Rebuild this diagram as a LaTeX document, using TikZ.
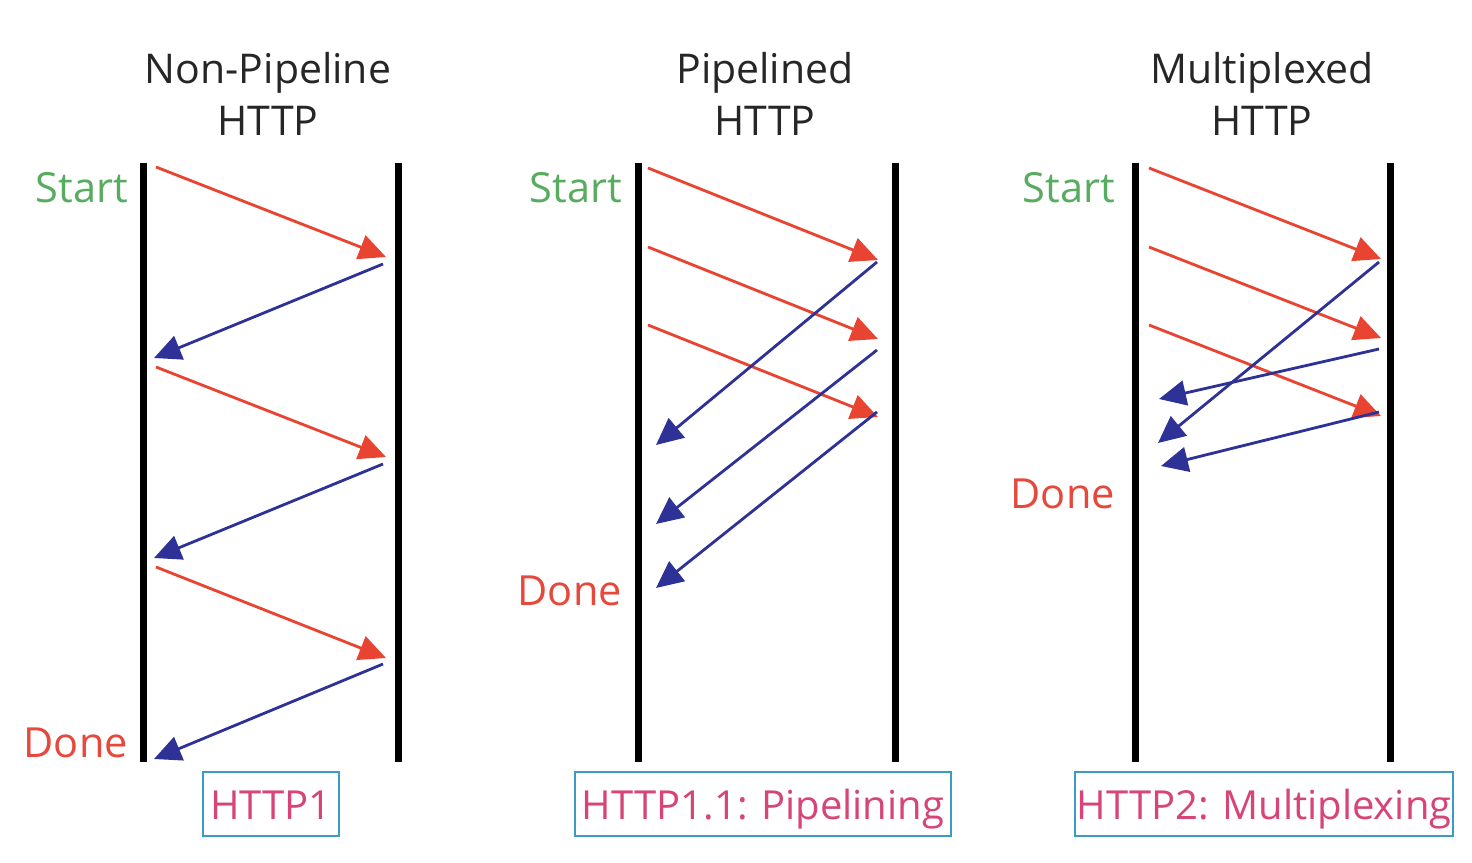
\documentclass[tikz,border=0pt]{standalone}
\usepackage{fontspec}
\setmainfont{Open Sans}
\usetikzlibrary{arrows.meta}

\definecolor{reqred}{RGB}{233,67,50}
\definecolor{respblue}{RGB}{46,50,150}
\definecolor{startgreen}{RGB}{88,172,96}
\definecolor{donered}{RGB}{230,72,60}
\definecolor{tagpink}{RGB}{214,68,120}
\definecolor{tagblue}{RGB}{60,155,196}

\tikzset{
  wire/.style={line width=7pt},
  req/.style={reqred, line width=2.8pt, -{Triangle[length=27pt,width=25pt]}},
  resp/.style={respblue, line width=2.8pt, -{Triangle[length=27pt,width=25pt]}},
  title/.style={align=center, text=black!85, font=\fontsize{41}{52}\selectfont},
  startlbl/.style={anchor=base east, inner sep=0pt, text=startgreen, font=\fontsize{41.5}{50}\selectfont},
  donelbl/.style={anchor=base east, inner sep=0pt, text=donered, font=\fontsize{41.5}{50}\selectfont},
  tag/.style={draw=tagblue, line width=2pt, text=tagpink, inner sep=0pt,
    minimum height=64pt, text height=30pt, text depth=0pt,
    font=\fontsize{40}{44}\selectfont}
}

\begin{document}
\begin{tikzpicture}[x=1pt, y=-1pt]
  \useasboundingbox[fill=white] (0,0) rectangle (1472,862);

  % Titles
  \node[title] (title1) at (268,94) {Non-Pipeline\\HTTP};
  \node[title] (title2) at (765,94) {Pipelined\\HTTP};
  \node[title] (title3) at (1262,94) {Multiplexed\\HTTP};

  % Wires
  \coordinate (c1t) at (143,163); \coordinate (c1b) at (143,762);
  \coordinate (s1t) at (398,163); \coordinate (s1b) at (398,762);
  \coordinate (c2t) at (638,163); \coordinate (c2b) at (638,762);
  \coordinate (s2t) at (895,163); \coordinate (s2b) at (895,762);
  \coordinate (c3t) at (1135,163); \coordinate (c3b) at (1135,762);
  \coordinate (s3t) at (1390,163); \coordinate (s3b) at (1390,762);
  \draw[wire] (c1t) -- (c1b);
  \draw[wire] (s1t) -- (s1b);
  \draw[wire] (c2t) -- (c2b);
  \draw[wire] (s2t) -- (s2b);
  \draw[wire] (c3t) -- (c3b);
  \draw[wire] (s3t) -- (s3b);

  % Labels
  \node[startlbl] (start1) at (128,202) {Start};
  \node[donelbl] (done1) at (128,757) {Done};
  \node[startlbl] (start2) at (622,202) {Start};
  \node[donelbl] (done2) at (622,605) {Done};
  \node[startlbl] (start3) at (1115,202) {Start};
  \node[donelbl] (done3) at (1115,508) {Done};

  % Non-pipeline
  \coordinate (a1) at (156,167); \coordinate (b1) at (386,257);
  \coordinate (a2) at (383,264); \coordinate (b2) at (154,358);
  \coordinate (a3) at (156,367); \coordinate (b3) at (386,457);
  \coordinate (a4) at (383,464); \coordinate (b4) at (154,558);
  \coordinate (a5) at (156,567); \coordinate (b5) at (386,658);
  \coordinate (a6) at (383,664); \coordinate (b6) at (154,759);
  \draw[req] (a1) -- (b1);
  \draw[resp] (a2) -- (b2);
  \draw[req] (a3) -- (b3);
  \draw[resp] (a4) -- (b4);
  \draw[req] (a5) -- (b5);
  \draw[resp] (a6) -- (b6);

  % Pipelined
  \coordinate (p1) at (648,168); \coordinate (q1) at (878,260);
  \coordinate (p2) at (648,247); \coordinate (q2) at (878,339);
  \coordinate (p3) at (648,325); \coordinate (q3) at (878,417);
  \coordinate (p4) at (877,262); \coordinate (q4) at (656,445);
  \coordinate (p5) at (877,350); \coordinate (q5) at (656,524);
  \coordinate (p6) at (877,412); \coordinate (q6) at (656,588);
  \draw[req] (p1) -- (q1);
  \draw[req] (p2) -- (q2);
  \draw[req] (p3) -- (q3);
  \draw[resp] (p4) -- (q4);
  \draw[resp] (p5) -- (q5);
  \draw[resp] (p6) -- (q6);

  % Multiplexed
  \coordinate (m1) at (1149,168); \coordinate (n1) at (1381,259);
  \coordinate (m2) at (1149,247); \coordinate (n2) at (1381,338);
  \coordinate (m3) at (1149,325); \coordinate (n3) at (1381,416);
  \coordinate (m4) at (1379,262); \coordinate (n4) at (1158,443);
  \coordinate (m5) at (1379,349); \coordinate (n5) at (1159,399);
  \coordinate (m6) at (1379,412); \coordinate (n6) at (1161,466);
  \draw[req] (m1) -- (n1);
  \draw[req] (m2) -- (n2);
  \draw[req] (m3) -- (n3);
  \draw[resp] (m4) -- (n4);
  \draw[resp] (m5) -- (n5);
  \draw[resp] (m6) -- (n6);

  % Tags
  \node[tag, minimum width=136pt] (tag1) at (271,804) {HTTP1};
  \node[tag, minimum width=376pt] (tag2) at (763,804) {HTTP1.1: Pipelining};
  \node[tag, minimum width=378pt] (tag3) at (1264,804) {HTTP2: Multiplexing};
\end{tikzpicture}
\end{document}
